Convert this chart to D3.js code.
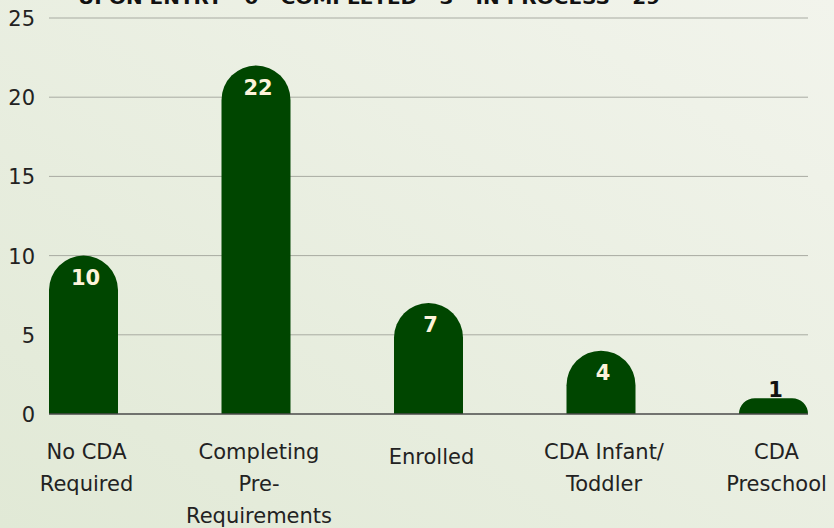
<!DOCTYPE html>
<html>
<head>
<meta charset="utf-8">
<script src="https://cdn.jsdelivr.net/npm/d3@7"></script>
<style>
  html, body { margin: 0; padding: 0; }
  body { width: 834px; height: 528px; overflow: hidden; }
  svg { display: block; }
</style>
</head>
<body>
<svg id="chart" width="834" height="528"></svg>
<script>
// Participant CDA status counts
const categories = ["No CDA Required", "Completing Pre-Requirements", "Enrolled", "CDA Infant/ Toddler", "CDA Preschool"];
const categoryLines = [["No CDA", "Required"], ["Completing", "Pre-", "Requirements"], ["Enrolled"], ["CDA Infant/", "Toddler"], ["CDA", "Preschool"]];
const counts = [10, 22, 7, 4, 1];
const yTicks = [0, 5, 10, 15, 20, 25];
const title = "UPON ENTRY - 0 - COMPLETED - 3 - IN PROCESS - 29";

const W = 834, H = 528;
const font = "'DejaVu Sans', 'Noto Sans', sans-serif";
const svg = d3.select("#chart");

// soft green backdrop
const defs = svg.append("defs");
const grad = defs.append("linearGradient").attr("id", "bg")
  .attr("x1", "100%").attr("y1", "0%").attr("x2", "0%").attr("y2", "100%");
grad.append("stop").attr("offset", "0%").attr("stop-color", "#f2f4ec");
grad.append("stop").attr("offset", "100%").attr("stop-color", "#e1e9d6");
svg.append("rect").attr("width", W).attr("height", H).attr("fill", "url(#bg)");

const x = d3.scaleBand().domain(categories).range([49, 808]).paddingInner(0.6).paddingOuter(0);
const y = d3.scaleLinear().domain([0, 25]).range([414, 18]);

// gridlines
svg.append("g").selectAll("line").data(yTicks.filter(t => t > 0)).join("line")
  .attr("x1", 49).attr("x2", 808)
  .attr("y1", d => y(d)).attr("y2", d => y(d))
  .attr("stroke", "#a8aba2").attr("stroke-width", 1);

// y axis labels
const yAxis = d3.axisLeft(y).tickValues(yTicks).tickSize(0).tickPadding(0);
const gy = svg.append("g").attr("transform", "translate(35,0)").call(yAxis);
gy.select(".domain").remove();
gy.selectAll("text").attr("font-family", font).attr("font-size", 21)
  .attr("fill", "#222").attr("dy", "0.36em");

// bars with rounded tops
function barPath(d) {
  const x0 = x(d.cat), w = x.bandwidth(), yb = y(0), yt = y(d.v);
  const h = yb - yt;
  const r = Math.min(w / 2, h);
  return `M${x0},${yb} L${x0},${yt + r} A${r},${r} 0 0 1 ${x0 + r},${yt}` +
    ` L${x0 + w - r},${yt} A${r},${r} 0 0 1 ${x0 + w},${yt + r} L${x0 + w},${yb} Z`;
}
const data = categories.map((c, i) => ({ cat: c, v: counts[i] }));
svg.append("g").selectAll("path").data(data).join("path")
  .attr("d", barPath).attr("fill", "#004600");

// baseline
svg.append("line").attr("x1", 49).attr("x2", 808).attr("y1", y(0)).attr("y2", y(0))
  .attr("stroke", "#4a4a4a").attr("stroke-width", 1.5);

// value labels
svg.append("g").selectAll("text").data(data).join("text")
  .attr("x", d => x(d.cat) + x.bandwidth() / 2 + 2)
  .attr("y", d => (y(0) - y(d.v) > 40 ? y(d.v) + 29 : y(d.v) - 1))
  .attr("text-anchor", "middle")
  .attr("font-family", font).attr("font-weight", "bold").attr("font-size", 21)
  .attr("fill", d => (y(0) - y(d.v) > 40 ? "#fdf3da" : "#111"))
  .text(d => d.v);

// category labels
const xl = svg.append("g");
data.forEach((d, i) => {
  const lines = categoryLines[i];
  const cx = x(d.cat) + x.bandwidth() / 2 + 3;
  const t = xl.append("text")
    .attr("x", cx)
    .attr("y", lines.length === 1 ? 464 : 459)
    .attr("text-anchor", "middle")
    .attr("font-family", font).attr("font-size", 21).attr("fill", "#222");
  lines.forEach((ln, j) => {
    t.append("tspan").attr("x", cx)
      .attr("dy", j === 0 ? 0 : 32).text(ln);
  });
});

// header
svg.append("text").attr("x", 78).attr("y", 4)
  .attr("font-family", font).attr("font-weight", "bold").attr("font-size", 18)
  .attr("fill", "#111").attr("textLength", 582).attr("lengthAdjust", "spacingAndGlyphs")
  .text(title);
</script>
</body>
</html>
